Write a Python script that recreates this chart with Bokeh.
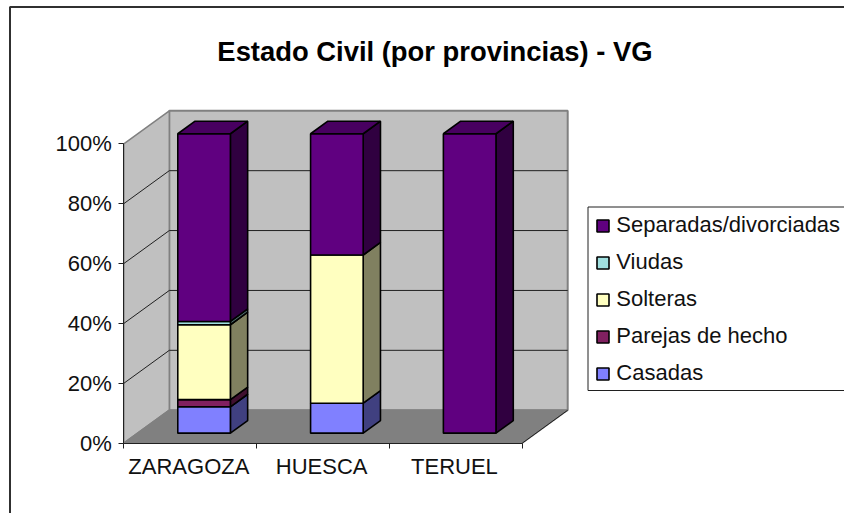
from bokeh.plotting import figure
from bokeh.models import Range1d, FixedTicker, Legend, LegendItem, Label, LinearAxis
from bokeh.embed import file_html
from bokeh.resources import INLINE

# --- data ---
provinces = ["ZARAGOZA", "HUESCA", "TERUEL"]
series = ["Casadas", "Parejas de hecho", "Solteras", "Viudas", "Separadas/divorciadas"]
casadas = [8.8, 10.0, 0.0]
parejas = [2.4, 0.0, 0.0]
solteras = [25.0, 49.5, 0.0]
viudas = [1.1, 0.0, 0.0]
separadas = [62.7, 40.5, 100.0]
values = [casadas, parejas, solteras, viudas, separadas]
pct_ticks = [0, 20, 40, 60, 80, 100]
front_colors = ["#8080FF", "#802060", "#FFFFC0", "#A0E0E0", "#600080"]
side_colors = ["#404080", "#401030", "#808060", "#507070", "#300040"]
top_color = "#480060"

# --- layout (page pixels) ---
W, H = 844, 513
PAGE_X, PAGE_Y = 0, 0
X0, BAND = 123.3, 132.8       # axis x and category width
Y0, PCT = 442.7, 2.994        # 0 % y and pixels per percent
DX, DY = 45.5, 33.0           # depth offset of the back wall
dxu, dyu = DX / BAND, DY / PCT


def data_x(px):
    return (px - X0) / BAND


def data_y(py):
    return (Y0 - py) / PCT


p = figure(width=W, height=H, output_backend="svg", toolbar_location=None,
           x_range=Range1d(data_x(PAGE_X), data_x(PAGE_X + W)),
           y_range=Range1d(data_y(PAGE_Y + H), data_y(PAGE_Y)),
           min_border=0, min_border_left=0, min_border_right=0, min_border_top=0, min_border_bottom=0,
           x_axis_location=None, y_axis_location=None)
p.grid.visible = False
p.outline_line_color = None
p.background_fill_color = "white"
p.border_fill_color = "white"


def proj(x, y, d):
    return x + d * dxu, y + d * dyu


ncat = len(provinces)
# walls
xs, ys = zip(*[proj(0, 0, 1), proj(ncat, 0, 1), proj(ncat, 100, 1), proj(0, 100, 1)])
p.patch(list(xs), list(ys), fill_color="#C0C0C0", line_color="#808080", line_width=2)
xs, ys = zip(*[proj(0, 0, 0), proj(0, 0, 1), proj(0, 100, 1), proj(0, 100, 0)])
p.patch(list(xs), list(ys), fill_color="#C0C0C0", line_color="#808080", line_width=1.5)
xs, ys = zip(*[proj(0, 0, 0), proj(ncat, 0, 0), proj(ncat, 0, 1), proj(0, 0, 1)])
p.patch(list(xs), list(ys), fill_color="#808080", line_color="#808080", line_width=1.5)
# gridlines
for t in pct_ticks[1:-1]:
    a, b, c = proj(0, t, 0), proj(0, t, 1), proj(ncat, t, 1)
    p.line([a[0], b[0], c[0]], [a[1], b[1], c[1]], line_color="#202020", line_width=1)
a, b = proj(ncat, 0, 0), proj(ncat, 0, 1)
p.line([a[0], b[0]], [a[1], b[1]], line_color="#202020", line_width=1)

# bars
GAP_D, BAR_D = 0.305, 0.38
BAR_W = 52.6 / BAND
legend_rend = {}
for c in range(ncat):
    left = c + 0.5 - BAR_W / 2
    right = left + BAR_W
    base = 0.0
    for s, vals in enumerate(values):
        v = vals[c]
        if v <= 0:
            continue
        top = base + v
        corners = [proj(right, base, GAP_D), proj(right, base, GAP_D + BAR_D),
                   proj(right, top, GAP_D + BAR_D), proj(right, top, GAP_D)]
        p.patch([k[0] for k in corners], [k[1] for k in corners], fill_color=side_colors[s],
                line_color="black", line_width=1.6)
        fl, fb = proj(left, base, GAP_D)
        fr, ft = proj(right, top, GAP_D)
        r = p.quad(left=[fl], right=[fr], bottom=[fb], top=[ft], fill_color=front_colors[s],
                   line_color="black", line_width=1.6)
        legend_rend.setdefault(s, r)
        base = top
    corners = [proj(left, base, GAP_D), proj(right, base, GAP_D),
               proj(right, base, GAP_D + BAR_D), proj(left, base, GAP_D + BAR_D)]
    p.patch([k[0] for k in corners], [k[1] for k in corners], fill_color=top_color,
            line_color="black", line_width=1.6)

# axes
yaxis = LinearAxis(ticker=FixedTicker(ticks=pct_ticks), fixed_location=0, bounds=(0, 100))
yaxis.major_label_overrides = {t: f"{t}%" for t in pct_ticks}
yaxis.major_tick_in = 0
yaxis.major_tick_out = 5
yaxis.minor_tick_line_color = None
yaxis.major_label_standoff = 7
label_pos = [i + 0.49 for i in range(ncat)]
xaxis = LinearAxis(ticker=FixedTicker(ticks=label_pos, minor_ticks=list(range(ncat + 1))),
                   fixed_location=0, bounds=(0, ncat))
xaxis.major_label_overrides = dict(zip(label_pos, provinces))
xaxis.major_tick_line_color = None
xaxis.major_tick_in = 0
xaxis.major_tick_out = 5
xaxis.minor_tick_in = 0
xaxis.minor_tick_out = 5
xaxis.major_label_standoff = 6
for ax in (xaxis, yaxis):
    ax.axis_line_color = "#202020"
    ax.major_label_text_font = "Liberation Sans"
    ax.major_label_text_font_size = "22px"
    ax.major_label_text_color = "#111111"
xaxis.minor_tick_line_color = "#202020"
yaxis.major_tick_line_color = "#202020"
p.add_layout(yaxis, "left")
p.add_layout(xaxis, "below")

# chart frame
xl, xr = data_x(9.5), data_x(PAGE_X + W + 10)
yt, yb = data_y(6.5), data_y(PAGE_Y + H + 10)
p.line([xl, xl, xr], [yb, yt, yt], line_color="#303030", line_width=2)

# title
p.add_layout(Label(x=data_x(434.5), y=data_y(51), text="Estado Civil (por provincias) - VG",
                   text_font="Liberation Sans", text_font_style="bold", text_font_size="27.4px",
                   text_align="center", text_baseline="middle", text_color="black"))

# legend box
p.quad(left=[data_x(587.5)], right=[data_x(PAGE_X + W + 10)], top=[data_y(206.5)], bottom=[data_y(390)],
       fill_color="white", line_color="#202020", line_width=1)

# legend
items = [LegendItem(label=series[s], renderers=[legend_rend[s]]) for s in reversed(range(len(series)))]
legend = Legend(items=items, location=(595.3, 127), orientation="vertical", margin=0,
                padding=0, spacing=11, glyph_width=15, glyph_height=15, label_height=22,
                label_standoff=6, label_text_font="Liberation Sans", label_text_font_size="22px",
                label_text_color="#111111", border_line_color=None,
                background_fill_alpha=0.0)
p.add_layout(legend)

open("out.html", "w").write(file_html(p, INLINE))
